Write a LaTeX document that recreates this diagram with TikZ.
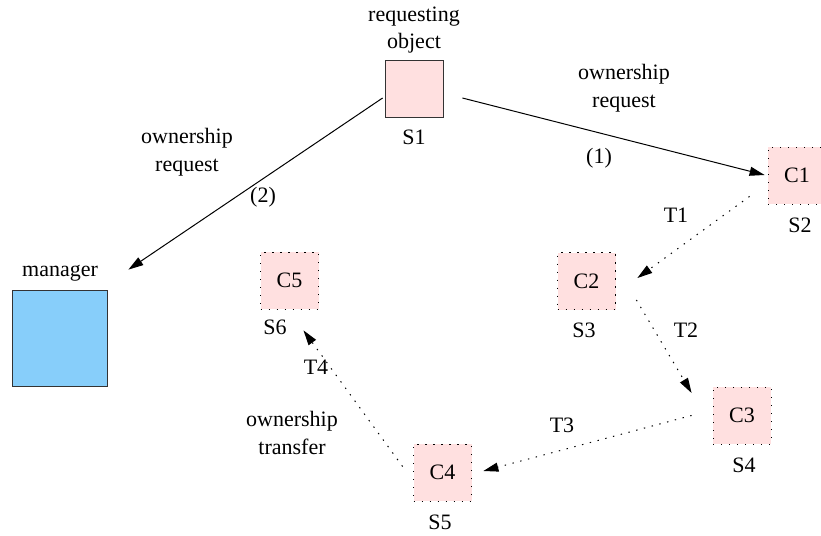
\documentclass[tikz,border=0pt]{standalone}
\usepackage{fontspec}
\setmainfont{Liberation Serif}
\newfontfamily\figfont{Liberation Serif}
\usetikzlibrary{arrows.meta}
\definecolor{objpink}{RGB}{255,224,224}
\definecolor{mgrblue}{RGB}{135,206,250}
\begin{document}
\begin{tikzpicture}[x=0.5pt,y=-0.5pt,
    every node/.style={font=\figfont\fontsize{11}{13.8}\selectfont},
    obj/.style={draw=black!80,fill=objpink,minimum width=29pt,minimum height=28.5pt,inner sep=0pt},
    replica/.style={obj,draw=black,dash pattern=on 0.7pt off 3.3pt},
    req/.style={-{Triangle[length=7.5pt,width=4.5pt]},line width=0.5pt},
    xfer/.style={req,dash pattern=on 0.7pt off 3.3pt}]
  \useasboundingbox (0,0) rectangle (821,536);
  \node[obj] (s1) at (414,88.5) {};
  \node[obj,fill=mgrblue,minimum width=47.5pt,minimum height=48pt] (mgr) at (59.5,338) {};
  \node[replica] (c1) at (797,175.5) {C1};
  \node[replica] (c2) at (586.5,281) {C2};
  \node[replica] (c3) at (742,415.5) {C3};
  \node[replica] (c4) at (442.5,472.5) {C4};
  \node[replica] (c5) at (289.5,280.5) {C5};
  \node[align=center] (reqobj) at (414,30) {requesting\\object};
  \node (mgrlbl) at (60,273) {manager};
  \node (s1lbl) at (414,137) {S1};
  \node (s2lbl) at (800,225) {S2};
  \node (s3lbl) at (584,330) {S3};
  \node (s4lbl) at (744,465) {S4};
  \node (s5lbl) at (440,522) {S5};
  \node (s6lbl) at (275,327) {S6};
  \node[align=center] (reqr) at (624,88) {ownership\\request};
  \node[align=center] (reql) at (187,152) {ownership\\request};
  \node (one) at (599,158) {(1)};
  \node (two) at (263,197) {(2)};
  \node (t1) at (676,215) {T1};
  \node (t2) at (686,330) {T2};
  \node (t3) at (562,425) {T3};
  \node (t4) at (316,367) {T4};
  \node[align=center] (xferlbl) at (292,433) {ownership\\transfer};
  \begin{scope}
    \draw[req] ([shift={(19,9.5)}]s1.east) -- ([shift={(-3,-0.5)}]c1.west);
    \draw[req] ([shift={(-2,9.5)}]s1.west) -- ([shift={(21,-20)}]mgr.north east);
    \draw[xfer] ([shift={(-18,-8)}]c1.south west) -- ([shift={(21.5,-3)}]c2.east);
    \draw[xfer] ([shift={(20.5,19)}]c2.east) -- ([shift={(-21,-22.5)}]c3.west);
    \draw[xfer] ([shift={(-21,0)}]c3.west) -- ([shift={(11.5,-1.5)}]c4.east);
    \draw[xfer] ([shift={(-10.5,-6)}]c4.west) -- ([shift={(14,21)}]c5.south);
  \end{scope}
\end{tikzpicture}
\end{document}
